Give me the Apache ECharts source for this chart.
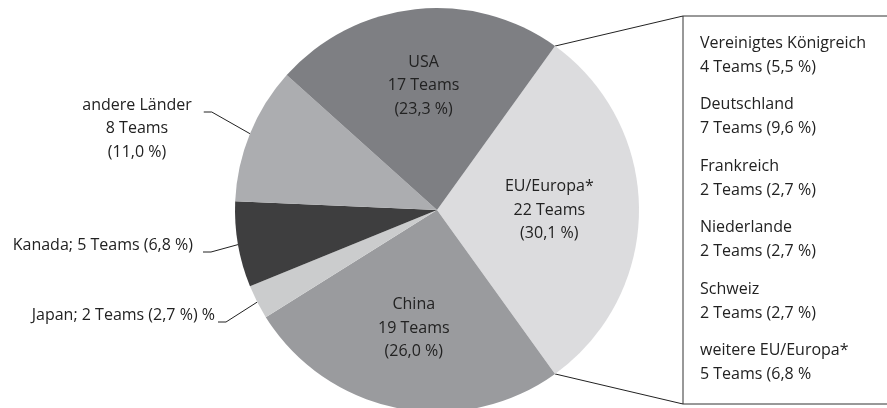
<!DOCTYPE html>
<html>
<head>
<meta charset="utf-8">
<script src="https://cdn.jsdelivr.net/npm/echarts@6/dist/echarts.min.js"></script>
<style>
html,body{margin:0;padding:0;background:#fff;}
#main{width:887px;height:408px;}
</style>
</head>
<body>
<div id="main"></div>
<script>
// ---- data ----
var regions = ['EU/Europa*', 'China', 'Japan', 'Kanada', 'andere Länder', 'USA'];
var teams = [22, 19, 2, 5, 8, 17];
var regionColors = ['#dcdcde', '#9a9b9e', '#cbcccd', '#3e3e3f', '#acadb0', '#7e7f83'];
var euCountries = ['Vereinigtes Königreich', 'Deutschland', 'Frankreich', 'Niederlande', 'Schweiz', 'weitere EU/Europa*'];
var euTeams = [4, 7, 2, 2, 2, 5];

var total = teams.reduce(function (a, b) { return a + b; }, 0);
function pct(v) { return (Math.round(v / total * 1000) / 10).toFixed(1).replace('.', ','); }

var CX = 437, CY = 210, R = 202;
var FONT = '"Open Sans", sans-serif';
var TEXT = '#222';
var startAngle = teams[0] / total * 180;

// label placement (style only)
var outsideStyle = {
  'andere Länder': {
    fmt: function (n, v) { return '{e| }\n{t|' + n + '}\n{t|' + v + ' Teams}\n{t|(' + pct(v) + ' %)}'; },
    x: 143, y: 112, align: 'center', padding: [0, 12, 0, 0], eh: 33
  },
  'Kanada': {
    fmt: function (n, v) { return '{t|' + n + '; ' + v + ' Teams (' + pct(v) + ' %)}\n{e| }'; },
    x: 203, y: 252, align: 'right', padding: [0, 10, 0, 0], eh: 14
  },
  'Japan': {
    fmt: function (n, v) { return '{t|' + n + '; ' + v + ' Teams (' + pct(v) + ' %) %}\n{e| }'; },
    x: 218, y: 322, align: 'right', padding: [0, 3, 0, 0], eh: 14
  }
};
var insideScale = { 'EU/Europa*': 1.08, 'China': 1.16, 'USA': 1.2 };

var pieData = regions.map(function (name, i) {
  var o = outsideStyle[name];
  var item = { name: name, value: teams[i], itemStyle: { color: regionColors[i] } };
  if (o) {
    item.label = {
      position: 'outside', formatter: o.fmt(name, teams[i]), padding: o.padding,
      rich: {
        t: { fontFamily: FONT, fontSize: 16, lineHeight: 23.5, color: TEXT },
        e: { fontSize: 1, lineHeight: o.eh }
      }
    };
    item.labelLine = { show: true };
  } else {
    item.label = { position: 'inside', formatter: name + '\n' + teams[i] + ' Teams\n(' + pct(teams[i]) + ' %)' };
    item.labelLine = { show: false };
  }
  return item;
});

// EU breakdown box
var boxLeft = 683, boxTop = 16, boxBottom = 404;
var a = startAngle * Math.PI / 180;
var pTop = [CX + R * Math.cos(a), CY - R * Math.sin(a)];
var pBot = [CX + R * Math.cos(a), CY + R * Math.sin(a)];
var graphics = [
  { type: 'rect', shape: { x: boxLeft, y: boxTop, width: 400, height: boxBottom - boxTop }, style: { fill: 'none', stroke: '#333', lineWidth: 1 } },
  { type: 'line', shape: { x1: pTop[0], y1: pTop[1], x2: boxLeft, y2: boxTop }, style: { stroke: '#222', lineWidth: 1 } },
  { type: 'line', shape: { x1: pBot[0], y1: pBot[1], x2: boxLeft, y2: boxBottom }, style: { stroke: '#222', lineWidth: 1 } }
];
euCountries.forEach(function (c, i) {
  var tail = (i === euCountries.length - 1) ? '' : ')';
  graphics.push({
    type: 'text', x: 700, y: 55 + i * 61.5,
    style: {
      text: c + '\n' + euTeams[i] + ' Teams (' + pct(euTeams[i]) + ' %' + tail,
      font: '16px ' + FONT, fill: TEXT, lineHeight: 24,
      align: 'left', verticalAlign: 'middle'
    }
  });
});

var chart = echarts.init(document.getElementById('main'));
chart.setOption({
  animation: false,
  backgroundColor: '#fff',
  graphic: graphics,
  series: [{
    type: 'pie',
    center: [CX, CY],
    radius: [0, R],
    startAngle: startAngle,
    clockwise: true,
    avoidLabelOverlap: false,
    itemStyle: { borderWidth: 0 },
    label: { color: TEXT, fontFamily: FONT, fontSize: 16, lineHeight: 23.5 },
    labelLine: { length: 10, length2: 8, lineStyle: { color: '#222', width: 1 } },
    emphasis: { disabled: true },
    labelLayout: function (p) {
      var name = regions[p.dataIndex];
      var o = outsideStyle[name];
      if (o) {
        return { x: o.x, y: o.y, align: o.align, verticalAlign: 'middle' };
      }
      var r = p.labelRect;
      var lx = r.x + r.width / 2, ly = r.y + r.height / 2;
      var k = insideScale[name] || 1.15;
      return { x: CX + (lx - CX) * k, y: CY + (ly - CY) * k, align: 'center', verticalAlign: 'middle' };
    },
    data: pieData
  }]
});
</script>
</body>
</html>
